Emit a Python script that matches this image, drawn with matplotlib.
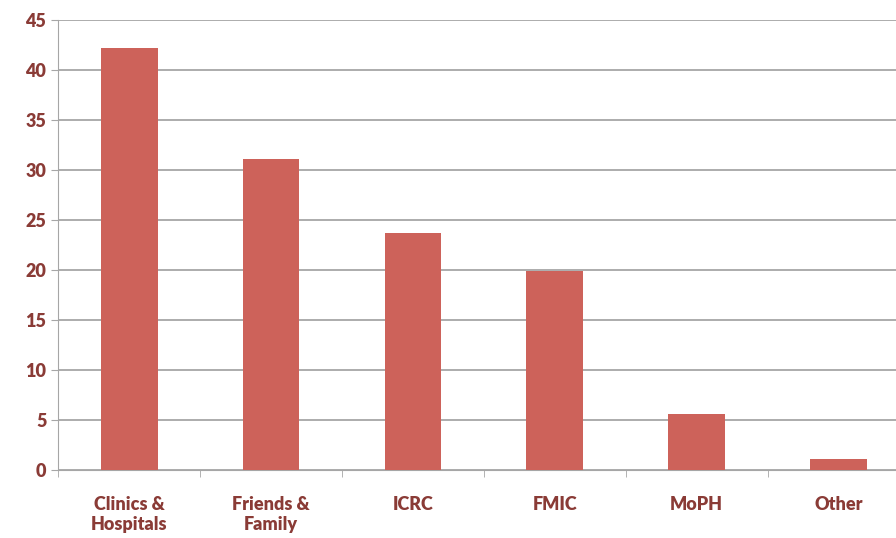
import matplotlib
matplotlib.use("Agg")
import matplotlib.pyplot as plt

categories = ["Clinics &\nHospitals", "Friends &\nFamily", "ICRC", "FMIC", "MoPH", "Other"]
values = [42.2, 31.1, 23.7, 19.9, 5.6, 1.1]

plt.rcParams["font.family"] = ["Lato", "DejaVu Sans"]
text_col = "#8a3b36"

fig = plt.figure(figsize=(8.96, 5.38), dpi=100)
ax = fig.add_axes([0.065, 0.127, 0.95, 0.835])

x = range(len(categories))
ax.bar(x, values, width=0.4, color="#cd625a", zorder=3)
ax.set_xlim(-0.5, 5.5)
ax.set_ylim(0, 45)
ax.set_yticks(range(0, 46, 5))
ax.yaxis.grid(True, color="#a6a6a6", linewidth=1.3, zorder=0)
ax.set_xticks(list(x))
ax.set_xticklabels(categories, fontsize=13, fontweight="heavy", color=text_col)
ax.tick_params(axis="y", labelsize=13, labelcolor=text_col, length=5, color="#a6a6a6")
for lbl in ax.get_yticklabels():
    lbl.set_fontweight("heavy")
ax.tick_params(axis="x", length=0, pad=19)
ax.set_xticks([i - 0.5 for i in range(7)], minor=True)
ax.tick_params(axis="x", which="minor", length=5, color="#a6a6a6")
for s in ["top", "right"]:
    ax.spines[s].set_visible(False)
ax.spines["left"].set_color("#a6a6a6")
ax.spines["bottom"].set_color("#a6a6a6")

fig.savefig("out.png", dpi=100)
